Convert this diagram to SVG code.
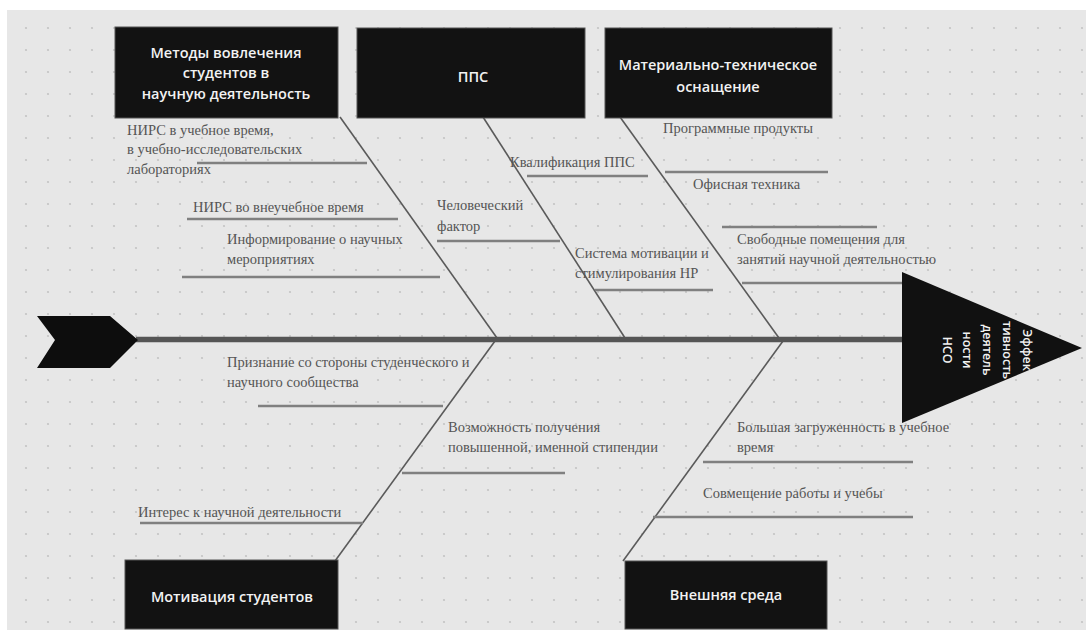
<svg xmlns="http://www.w3.org/2000/svg" width="1086" height="630" viewBox="0 0 1086 630">
<style>
.box{fill:#121212;stroke:#555;stroke-width:1}
.bt{font-family:"Open Sans","DejaVu Sans",sans-serif;font-weight:600;font-size:14.5px;fill:#f2f2f2;text-anchor:middle}
.lb{font-family:"Times New Roman","Liberation Serif",Tinos,"Noto Serif","DejaVu Serif",serif;font-size:14.5px;fill:#555}
.sub{stroke:#808080;stroke-width:2.5;fill:none}
.bone{stroke:#5a5a5a;stroke-width:1.6;fill:none}
.ht{font-family:"Open Sans","DejaVu Sans",sans-serif;font-weight:600;font-size:12.5px;fill:#f2f2f2;text-anchor:middle}
</style>
<defs>
<pattern id="dots" patternUnits="userSpaceOnUse" x="15" y="17" width="22" height="22">
<circle cx="11" cy="11" r="1.1" fill="#c4c4c4"/>
</pattern>
<clipPath id="headclip"><polygon points="902,272 1082,348 902,423"/></clipPath>
</defs>
<rect x="0" y="0" width="1086" height="630" fill="#ffffff"/>
<rect x="7" y="10" width="1079" height="620" fill="#e7e7e7"/>
<rect x="7" y="10" width="1079" height="620" fill="url(#dots)"/>

<g id="connectors">
<line class="bone" x1="340" y1="117" x2="497" y2="338"/>
<line class="bone" x1="483" y1="117" x2="625" y2="338"/>
<line class="bone" x1="620" y1="117" x2="779" y2="338"/>
<line class="bone" x1="495" y1="341" x2="335" y2="561"/>
<line class="bone" x1="783" y1="341" x2="623" y2="561"/>
<line x1="136" y1="339.5" x2="906" y2="339.5" stroke="#555" stroke-width="5.5"/>
</g>

<g id="tail"><polygon points="37,316 110,316 138,340 110,368 37,368 55,340" fill="#0d0d0d"/></g>

<g id="head">
<polygon points="902,272 1082,348 902,423" fill="#111"/>
<g clip-path="url(#headclip)">
<g transform="translate(988,350) rotate(90)">
<text class="ht" x="0" y="-35">Эффек</text>
<text class="ht" x="0" y="-15">тивность</text>
<text class="ht" x="0" y="5">деятель</text>
<text class="ht" x="0" y="25">ности</text>
<text class="ht" x="0" y="45">НСО</text>
</g>
</g>
</g>

<g id="box-methods">
<rect class="box" x="115" y="27" width="223" height="91"/>
<text class="bt" x="226" y="58">Методы вовлечения</text>
<text class="bt" x="226" y="78">студентов в</text>
<text class="bt" x="226" y="99">научную деятельность</text>
</g>
<g id="box-pps">
<rect class="box" x="357" y="28" width="228" height="90"/>
<text class="bt" x="473" y="82">ППС</text>
</g>
<g id="box-material">
<rect class="box" x="605" y="28" width="227" height="90"/>
<text class="bt" x="718" y="70">Материально-техническое</text>
<text class="bt" x="718" y="92">оснащение</text>
</g>
<g id="box-motivation">
<rect class="box" x="125" y="560" width="213" height="69"/>
<text class="bt" x="232" y="602">Мотивация студентов</text>
</g>
<g id="box-external">
<rect class="box" x="625" y="561" width="202" height="68"/>
<text class="bt" x="726" y="600">Внешняя среда</text>
</g>

<g id="c-nirs1">
<text class="lb" x="127" y="135">НИРС в учебное время,</text>
<text class="lb" x="127" y="154">в учебно-исследовательских</text>
<text class="lb" x="127" y="174">лабораториях</text>
<line class="sub" x1="197" y1="163" x2="367" y2="163"/>
</g>
<g id="c-nirs2">
<text class="lb" x="193" y="212">НИРС во внеучебное время</text>
<line class="sub" x1="187" y1="219" x2="398" y2="219"/>
</g>
<g id="c-inform">
<text class="lb" x="227" y="244">Информирование о научных</text>
<text class="lb" x="227" y="264">мероприятиях</text>
<line class="sub" x1="182" y1="277" x2="440" y2="277"/>
</g>
<g id="c-human">
<text class="lb" x="437" y="210">Человеческий</text>
<text class="lb" x="437" y="231">фактор</text>
<line class="sub" x1="437" y1="241" x2="560" y2="241"/>
</g>
<g id="c-qual">
<text class="lb" x="510" y="167">Квалификация ППС</text>
<line class="sub" x1="527" y1="176" x2="648" y2="176"/>
</g>
<g id="c-motsys">
<text class="lb" x="575" y="258">Система мотивации и</text>
<text class="lb" x="575" y="278">стимулирования НР</text>
<line class="sub" x1="595" y1="290" x2="713" y2="290"/>
</g>
<g id="c-soft">
<text class="lb" x="663" y="133">Программные продукты</text>
<line class="sub" x1="665" y1="172" x2="828" y2="172"/>
</g>
<g id="c-office">
<text class="lb" x="693" y="189">Офисная техника</text>
<line class="sub" x1="722" y1="227" x2="877" y2="227"/>
</g>
<g id="c-rooms">
<text class="lb" x="737" y="244">Свободные помещения для</text>
<text class="lb" x="737" y="264">занятий научной деятельностью</text>
<line class="sub" x1="742" y1="283" x2="902" y2="283"/>
</g>
<g id="c-recog">
<text class="lb" x="227" y="367">Признание со стороны студенческого и</text>
<text class="lb" x="227" y="387">научного сообщества</text>
<line class="sub" x1="258" y1="406" x2="443" y2="406"/>
</g>
<g id="c-stip">
<text class="lb" x="448" y="432">Возможность получения</text>
<text class="lb" x="448" y="452">повышенной, именной стипендии</text>
<line class="sub" x1="402" y1="473" x2="565" y2="473"/>
</g>
<g id="c-interest">
<text class="lb" x="138" y="517">Интерес к научной деятельности</text>
<line class="sub" x1="140" y1="523" x2="363" y2="523"/>
</g>
<g id="c-load">
<text class="lb" x="737" y="432">Большая загруженность в учебное</text>
<text class="lb" x="737" y="452">время</text>
<line class="sub" x1="703" y1="462" x2="913" y2="462"/>
</g>
<g id="c-combine">
<text class="lb" x="703" y="498">Совмещение работы и учебы</text>
<line class="sub" x1="653" y1="517" x2="913" y2="517"/>
</g>
</svg>
